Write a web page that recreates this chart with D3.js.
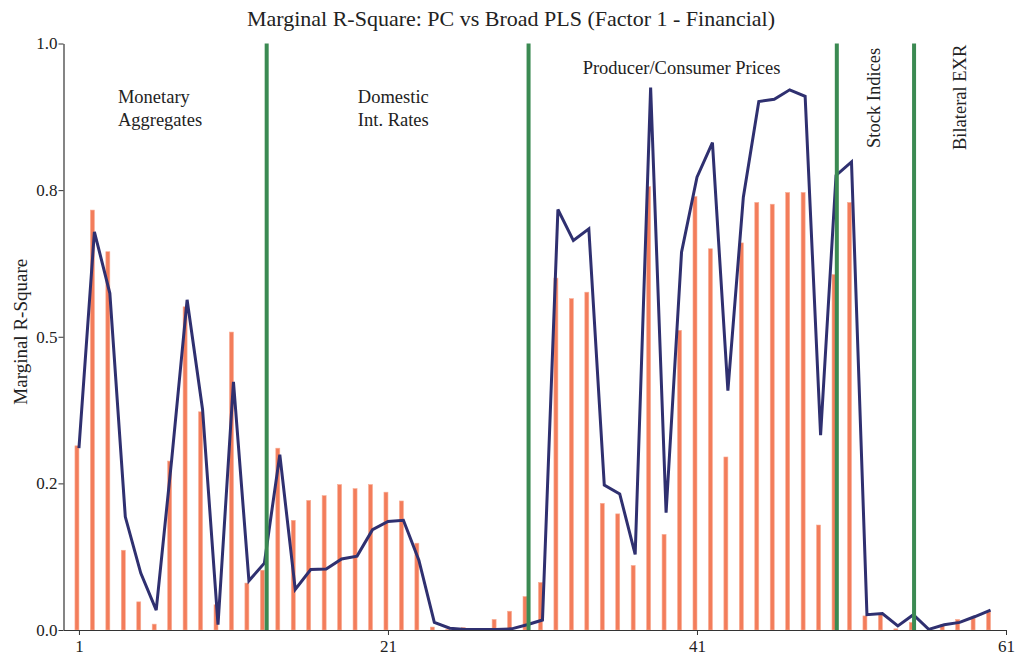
<!DOCTYPE html>
<html>
<head>
<meta charset="utf-8">
<script src="https://cdn.jsdelivr.net/npm/d3@7"></script>
<style>
  body { margin: 0; background: #fff; }
  svg text { font-family: "Liberation Serif", "DejaVu Serif", serif; fill: #222; }
</style>
</head>
<body>
<div id="chart"></div>
<script>
// series index 1..60
const seriesIndex = d3.range(1, 61);

// bars (orange)
const barValues = [
  0.314, 0.716, 0.645, 0.136, 0.048, 0.010, 0.288, 0.551, 0.372, 0.043,
  0.508, 0.080, 0.102, 0.310, 0.187, 0.221, 0.229, 0.248, 0.241, 0.248,
  0.235, 0.220, 0.148, 0.005, 0.001, 0.004, 0.000, 0.018, 0.032, 0.057,
  0.081, 0.600, 0.565, 0.576, 0.216, 0.198, 0.110, 0.756, 0.163, 0.511,
  0.739, 0.650, 0.295, 0.660, 0.729, 0.726, 0.746, 0.746, 0.179, 0.606,
  0.729, 0.024, 0.026, 0.002, 0.013, 0.000, 0.009, 0.018, 0.020, 0.031
];

// line (navy)
const lineValues = [
  0.310, 0.679, 0.574, 0.193, 0.097, 0.034, 0.290, 0.563, 0.376, 0.009,
  0.423, 0.084, 0.114, 0.299, 0.069, 0.103, 0.104, 0.121, 0.126, 0.171,
  0.185, 0.187, 0.119, 0.013, 0.003, 0.001, 0.001, 0.001, 0.002, 0.009,
  0.017, 0.717, 0.664, 0.684, 0.247, 0.232, 0.129, 0.925, 0.200, 0.644,
  0.772, 0.831, 0.408, 0.738, 0.901, 0.905, 0.921, 0.910, 0.332, 0.775,
  0.798, 0.026, 0.028, 0.007, 0.026, 0.001, 0.009, 0.013, 0.023, 0.034
];

const xTicks = [1, 21, 41, 61];
const yTicks = [0, 0.25, 0.5, 0.75, 1.0];
const yTickLabels = ["0.0", "0.2", "0.5", "0.8", "1.0"];

// group separators and their labels
const dividers = [13.15, 30.1, 50.05, 55.05];
const groupLabels = [
  {lines: ["Monetary", "Aggregates"], at: 3.52},
  {lines: ["Domestic", "Int. Rates"], at: 19.05},
  {lines: ["Producer/Consumer Prices"], at: 33.6}
];
const rotatedLabels = [
  {text: "Stock Indices", at: 52.85},
  {text: "Bilateral EXR", at: 58.4}
];

const width = 1018, height = 657;
const margin = {top: 43.5, right: 12, bottom: 27, left: 63.5};

const svg = d3.select("#chart").append("svg")
  .attr("width", width)
  .attr("height", height);

const xScale = d3.scaleLinear().domain([0, 61]).range([margin.left, width - margin.right]);
const yScale = d3.scaleLinear().domain([0, 1]).range([height - margin.bottom, margin.top]);

// title
svg.append("text")
  .attr("x", 511)
  .attr("y", 26)
  .attr("text-anchor", "middle")
  .style("font-size", "22px")
  .text("Marginal R-Square: PC vs Broad PLS (Factor 1 - Financial)");

// bars, slightly left of the line points
const barShift = 0.13;
const barW = 4;
svg.append("g").selectAll("rect")
  .data(seriesIndex)
  .enter()
  .append("rect")
  .attr("x", d => xScale(d - barShift) - barW / 2)
  .attr("y", (d, i) => yScale(barValues[i]))
  .attr("width", barW)
  .attr("height", (d, i) => yScale(0) - yScale(barValues[i]))
  .attr("fill", "#f37d5b")
  .attr("stroke", "#f8ad95")
  .attr("stroke-width", 0.6);

// line
const line = d3.line()
  .x(d => xScale(d))
  .y((d, i) => yScale(lineValues[i]));

svg.append("path")
  .datum(seriesIndex)
  .attr("d", line)
  .attr("fill", "none")
  .attr("stroke", "#2f3070")
  .attr("stroke-width", 3)
  .attr("stroke-linejoin", "miter");

// axes
const xAxis = d3.axisBottom(xScale)
  .tickValues(xTicks)
  .tickSize(5)
  .tickSizeOuter(0)
  .tickPadding(5)
  .tickFormat(d3.format("d"));

const yAxis = d3.axisLeft(yScale)
  .tickValues(yTicks)
  .tickSize(5)
  .tickSizeOuter(0)
  .tickPadding(1)
  .tickFormat((d, i) => yTickLabels[i]);

const gx = svg.append("g")
  .attr("transform", `translate(0,${yScale(0)})`)
  .call(xAxis);
const gy = svg.append("g")
  .attr("transform", `translate(${xScale(0)},0)`)
  .call(yAxis);

[gx, gy].forEach(g => {
  g.selectAll("text").style("font-size", "17px").style("font-family", "Liberation Serif").attr("fill", "#222");
  g.selectAll("line").attr("stroke", "#333");
  g.select(".domain").attr("stroke", "#333").attr("stroke-width", 1.2);
});

// green dividers
svg.append("g").selectAll("line")
  .data(dividers)
  .enter()
  .append("line")
  .attr("x1", d => xScale(d))
  .attr("x2", d => xScale(d))
  .attr("y1", yScale(1))
  .attr("y2", yScale(0))
  .attr("stroke", "#3b8a52")
  .attr("stroke-width", 4);

// group labels
groupLabels.forEach(g => {
  const t = svg.append("text")
    .attr("x", xScale(g.at))
    .attr("y", g.lines.length > 1 ? 103 : 74)
    .style("font-size", "18.5px");
  g.lines.forEach((s, k) => {
    t.append("tspan")
      .attr("x", xScale(g.at))
      .attr("dy", k === 0 ? 0 : 23)
      .text(s);
  });
});

rotatedLabels.forEach(r => {
  svg.append("text")
    .attr("transform", `translate(${xScale(r.at)},${r.text === "Stock Indices" ? 148 : 150}) rotate(-90)`)
    .attr("text-anchor", "start")
    .style("font-size", "18.5px")
    .text(r.text);
});

// y axis title
svg.append("text")
  .attr("transform", `translate(27,${(yScale(0) + yScale(1)) / 2 - 5}) rotate(-90)`)
  .attr("text-anchor", "middle")
  .style("font-size", "19px")
  .text("Marginal R-Square");
</script>
</body>
</html>
